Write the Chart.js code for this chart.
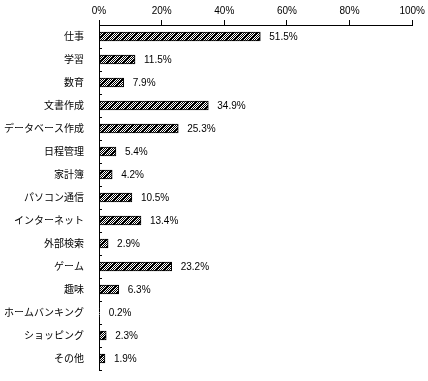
<!DOCTYPE html>
<html><head><meta charset="utf-8">
<script src="https://cdn.jsdelivr.net/npm/chart.js@4"></script>
<style>html,body{margin:0;padding:0;background:#fff;}canvas{display:block;}</style>
</head><body>
<canvas id="c" width="428" height="381"></canvas>
<script>
const categories = ['仕事','学習','数育','文書作成','データベース作成','日程管理','家計簿','パソコン通信','インターネット','外部検索','ゲーム','趣味','ホームバンキング','ショッピング','その他'];
const values = [51.5, 11.5, 7.9, 34.9, 25.3, 5.4, 4.2, 10.5, 13.4, 2.9, 23.2, 6.3, 0.2, 2.3, 1.9];
const xTicks = [0, 20, 40, 60, 80, 100];

function makePattern() {
  const p = document.createElement('canvas');
  p.width = 8; p.height = 8;
  const g = p.getContext('2d');
  g.fillStyle = '#fff'; g.fillRect(0,0,8,8);
  g.fillStyle = '#000';
  for (let y=0;y<8;y++) for (let x=0;x<8;x++) {
    if ((x+y)%2===0 || (x+y)%8===1) g.fillRect(x,y,1,1);
  }
  return document.getElementById('c').getContext('2d').createPattern(p,'repeat');
}

const valueLabels = {
  id: 'valueLabels',
  afterDatasetsDraw(chart) {
    const ctx = chart.ctx;
    const meta = chart.getDatasetMeta(0);
    ctx.save();
    ctx.font = '10px "Liberation Sans", Arial, sans-serif';
    ctx.fillStyle = '#000';
    ctx.textBaseline = 'middle';
    ctx.textAlign = 'left';
    meta.data.forEach((bar, i) => {
      ctx.fillText(values[i].toFixed(1) + '%', bar.x + 9, bar.y + 1);
    });
    ctx.restore();
  }
};

const innerTicks = {
  id: 'innerTicks',
  afterDraw(chart) {
    const ys = chart.scales.y;
    const ctx = chart.ctx;
    ctx.save();
    ctx.strokeStyle = '#000';
    ctx.lineWidth = 1;
    ctx.beginPath();
    for (let i = 0; i <= categories.length; i++) {
      const py = Math.round(ys.getPixelForValue(i - 0.5)) + 0.5;
      ctx.moveTo(ys.right, py);
      ctx.lineTo(ys.right + 3, py);
    }
    ctx.stroke();
    ctx.restore();
  }
};

new Chart(document.getElementById('c'), {
  type: 'bar',
  data: {
    labels: categories,
    datasets: [{
      data: values,
      backgroundColor: makePattern(),
      borderColor: '#000',
      borderWidth: 1,
      borderSkipped: false,
      barThickness: 9
    }]
  },
  options: {
    indexAxis: 'y',
    responsive: false,
    animation: false,
    devicePixelRatio: 1,
    layout: { padding: { left: 0, right: 15, top: 0, bottom: 11 } },
    plugins: { legend: { display: false }, tooltip: { enabled: false } },
    scales: {
      x: {
        position: 'top',
        min: 0, max: 100,
        afterBuildTicks(s) { s.ticks = xTicks.map(v => ({ value: v })); },
        afterFit(s) { s.height = 25; },
        grid: { display: true, drawOnChartArea: false, drawTicks: true, tickLength: 5, color: '#000' },
        border: { display: true, color: '#000' },
        ticks: {
          color: '#000', padding: 3,
          font: { family: '"Liberation Sans", Arial, sans-serif', size: 10 },
          callback: v => v + '%'
        }
      },
      y: {
        afterFit(s) { s.width = 99; s.paddingTop = 0; s.paddingBottom = 0; },
        grid: { display: false, drawTicks: false, tickLength: 0 },
        border: { display: true, color: '#000' },
        ticks: {
          color: '#000', padding: 15,
          font: { family: '"Noto Sans CJK JP", sans-serif', size: 10 }
        }
      }
    }
  },
  plugins: [valueLabels, innerTicks]
});
</script>
</body></html>
